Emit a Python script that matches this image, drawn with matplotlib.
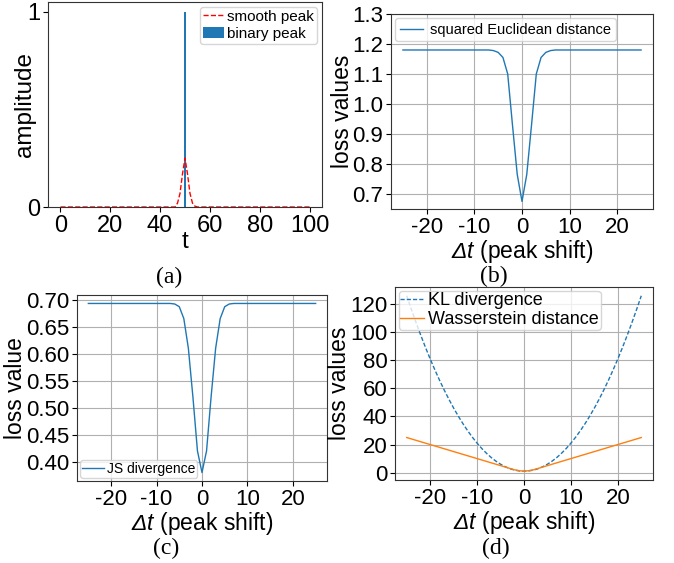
import matplotlib
matplotlib.use("Agg")
import matplotlib.pyplot as plt
import numpy as np

plt.rcParams['font.family'] = ['Liberation Sans', 'DejaVu Sans']
plt.rcParams['mathtext.fontset'] = 'custom'
# only the x labels use mathtext, and there the delta should be slanted too
plt.rcParams['mathtext.rm'] = 'Liberation Sans:italic'
plt.rcParams['mathtext.it'] = 'Liberation Sans:italic'
plt.rcParams['axes.edgecolor'] = '#333333'

# (a) peaks
t = list(range(0, 101))
peak_part = [0.0, 0.02, 0.07, 0.17, 0.25, 0.17, 0.07, 0.02, 0.004, 0.0]
smooth_peak = [0.0] * 46 + peak_part + [0.0] * (101 - 46 - len(peak_part))
binary_t = [50]
binary_amp = [1.0]

# shifts for (b), (c), (d)
shift = list(range(-25, 26))
shift_ticks = [-20, -10, 0, 10, 20]

# squared Euclidean distance
euc_half = [1.18] * 19 + [1.178, 1.172, 1.155, 1.10, 0.93, 0.765]
euclid = euc_half + [0.675] + euc_half[::-1]
euc_ticks = [0.7, 0.8, 0.9, 1.0, 1.1, 1.2, 1.3]

# JS divergence
js_half = [0.693] * 19 + [0.692, 0.687, 0.665, 0.61, 0.52, 0.42]
js_div = js_half + [0.38] + js_half[::-1]
js_ticks = [0.40, 0.45, 0.50, 0.55, 0.60, 0.65, 0.70]

# KL divergence and Wasserstein distance
kl_half = [126, 116.2, 106.8, 97.8, 89.2, 81, 73.2, 65.8, 58.8, 52.2, 46, 40.2, 34.8,
           29.8, 25.2, 21, 17.2, 13.8, 10.8, 8.2, 6, 4.2, 2.8, 1.8, 1.2]
kl_div = kl_half + [1.0] + kl_half[::-1]
w_half = [25, 24, 23, 22, 21, 20, 19, 18, 17, 16, 15, 14, 13, 12, 11, 10, 9, 8, 7, 6,
          5, 4, 3, 2, 1.4]
wass = w_half + [1.0] + w_half[::-1]
kw_ticks = [0, 20, 40, 60, 80, 100, 120]

W, H = 674, 563
fig = plt.figure(figsize=(W / 100, H / 100), dpi=100)


def box(left, right, top, bottom):
    return [left / W, 1 - bottom / H, (right - left) / W, (bottom - top) / H]


TICK = 16
LAB = 16.5
xlab = r'$\Delta t$ (peak shift)'


def shift_axis(ax):
    ax.set_xticks(shift_ticks)
    ax.set_xticklabels([str(v) for v in shift_ticks])
    ax.grid(True)
    ax.tick_params(labelsize=TICK, pad=2)
    ax.set_xlabel(xlab, fontsize=LAB, labelpad=0)


# (a)
ax = fig.add_axes(box(48, 322, 2, 207))
ax.plot(t, smooth_peak, 'r--', lw=1, label='smooth peak')
ax.bar(binary_t, binary_amp, width=0.7, color='#1f77b4', label='binary peak')
ax.set_ylim(0, 1.05)
ax.set_yticks([0, 1])
ax.set_xticks([0, 20, 40, 60, 80, 100])
ax.tick_params(labelsize=TICK + 1, pad=2)
ax.set_xlabel('t', fontsize=LAB + 1, labelpad=-4)
ax.set_ylabel('amplitude', fontsize=LAB + 1, labelpad=-6)
ax.legend(loc='upper right', fontsize=11, handlelength=1.4, handletextpad=0.2,
          borderpad=0.2, labelspacing=0.2, borderaxespad=0.3)

# (b)
ax = fig.add_axes(box(391, 653, 14, 209))
ax.plot(shift, euclid, color='#1f77b4', lw=1, label='squared Euclidean distance')
ax.set_yticks(euc_ticks)
ax.set_yticklabels([f'{v:.1f}' for v in euc_ticks])
ax.set_ylim(top=1.3)
shift_axis(ax)
ax.set_ylabel('loss values', fontsize=LAB, labelpad=-1)
ax.legend(loc='upper left', fontsize=10.5, handlelength=1.6, handletextpad=0.5,
          borderpad=0.3, borderaxespad=0.3)

# (c)
ax = fig.add_axes(box(77, 327, 295, 481))
ax.plot(shift, js_div, color='#1f77b4', lw=1, label='JS divergence')
ax.set_yticks(js_ticks)
ax.set_yticklabels([f'{v:.2f}' for v in js_ticks])
shift_axis(ax)
ax.set_ylabel('loss value', fontsize=LAB, labelpad=-1)
ax.legend(loc='lower left', fontsize=10, handlelength=1.6, handletextpad=0.2,
          borderpad=0.15, borderaxespad=0.2)

# (d)
ax = fig.add_axes(box(395, 653, 287, 480))
ax.plot(shift, kl_div, '--', color='#1f77b4', lw=1, dashes=(3, 1.5), label='KL divergence')
ax.plot(shift, wass, color='#ff7f0e', lw=1, label='Wasserstein distance')
ax.set_yticks(kw_ticks)
shift_axis(ax)
ax.set_ylabel('loss values', fontsize=LAB, labelpad=-1)
ax.legend(loc='upper left', fontsize=13, handlelength=1.3, handletextpad=0.25,
          borderpad=0.1, labelspacing=0.1, borderaxespad=0.2)

# captions
cap = dict(fontsize=17, family='Liberation Serif', ha='center', va='center')
fig.text(169 / W, 1 - 277 / H, '(a)', **cap)
fig.text(494 / W, 1 - 276 / H, '(b)', **cap)
fig.text(166 / W, 1 - 548 / H, '(c)', **cap)
fig.text(496 / W, 1 - 548 / H, '(d)', **cap)

fig.savefig('out.png', dpi=100)
